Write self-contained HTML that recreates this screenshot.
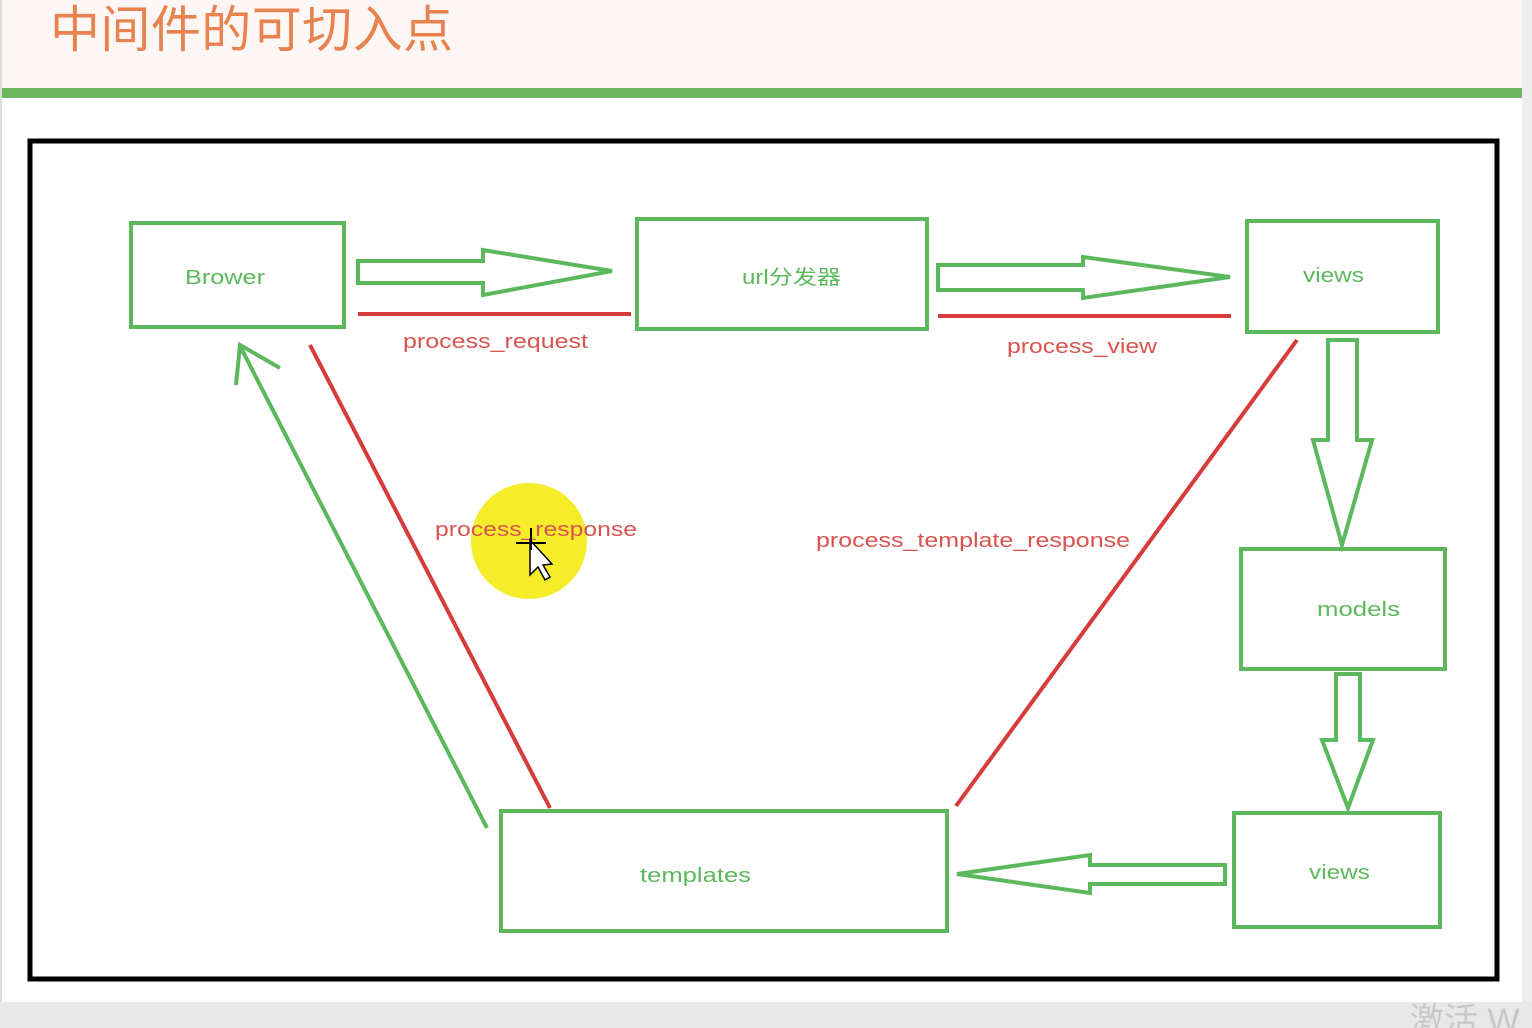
<!DOCTYPE html>
<html><head><meta charset="utf-8"><style>
html,body{margin:0;padding:0;width:1532px;height:1028px;overflow:hidden;background:#fff}
svg{display:block}
</style></head><body>
<svg width="1532" height="1028" viewBox="0 0 1532 1028" xmlns="http://www.w3.org/2000/svg">
<rect x="0" y="0" width="1532" height="1028" fill="#fff"/>
<rect x="0" y="0" width="1522" height="88" fill="#fcf7f5"/>
<rect x="0" y="0" width="2" height="1002" fill="#ddd"/>
<rect x="1522" y="0" width="10" height="1028" fill="#eeeeee"/>
<rect x="0" y="1002" width="1532" height="26" fill="#e8e8e8"/>
<text x="1410" y="1032" font-family="Liberation Sans,'Noto Sans CJK SC',sans-serif" font-size="34" fill="#c8c8c8">激活 W</text>
<text x="50" y="47" font-family="Liberation Sans,'Noto Sans CJK SC',sans-serif" font-size="50" fill="#e8824e" textLength="403">中间件的可切入点</text>
<rect x="2" y="88" width="1520" height="10" fill="#6cb65e"/>
<rect x="30" y="141" width="1467" height="838" fill="#fff" stroke="#000" stroke-width="5"/>
<g fill="none" stroke="#5cb85c" stroke-width="4">
<rect x="131" y="223" width="213" height="104"/>
<rect x="637" y="219" width="290" height="110"/>
<rect x="1247" y="221" width="191" height="111"/>
<rect x="1241" y="549" width="204" height="120"/>
<rect x="1234" y="813" width="206" height="114"/>
<rect x="501" y="811" width="446" height="120"/>
<polygon points="358,261 483,261 483,250 612,271 483,295 483,283 358,283"/>
<polygon points="938,265 1083,265 1083,257 1230,277 1083,298 1083,290 938,290"/>
<polygon points="1328,340 1357,340 1357,440 1372,440 1342,545 1313,440 1328,440"/>
<polygon points="1336,674 1360,674 1360,740 1373,740 1348,808 1322,740 1336,740"/>
<polygon points="1225,865 1225,884 1090,884 1090,893 957,874 1090,855 1090,865"/>
<line x1="487" y1="828" x2="240" y2="346"/>
<polyline points="280,368 240,345 236,385"/>
</g>
<g stroke="#d63c3c" stroke-width="4">
<line x1="358" y1="314" x2="631" y2="314"/>
<line x1="938" y1="316" x2="1231" y2="316"/>
<line x1="310" y1="345" x2="550" y2="808"/>
<line x1="1297" y1="340" x2="956" y2="806"/>
</g>
<circle cx="529" cy="541" r="58" fill="#f5ec2a"/>
<g font-family="Liberation Sans,'Noto Sans CJK SC',sans-serif" font-size="20" fill="#d9534f" lengthAdjust="spacingAndGlyphs">
<text x="403" y="348" textLength="185" lengthAdjust="spacingAndGlyphs">process_request</text>
<text x="1007" y="353" textLength="150" lengthAdjust="spacingAndGlyphs">process_view</text>
<text x="435" y="536" textLength="202" lengthAdjust="spacingAndGlyphs">process_response</text>
<text x="816" y="547" textLength="314" lengthAdjust="spacingAndGlyphs">process_template_response</text>
</g>
<g font-family="Liberation Sans,'Noto Sans CJK SC',sans-serif" font-size="20" fill="#5cb85c">
<text x="185" y="284" textLength="80" lengthAdjust="spacingAndGlyphs">Brower</text>
<text x="742" y="284" textLength="99" lengthAdjust="spacingAndGlyphs">url分发器</text>
<text x="1303" y="282" textLength="61" lengthAdjust="spacingAndGlyphs">views</text>
<text x="1317" y="616" textLength="83" lengthAdjust="spacingAndGlyphs">models</text>
<text x="1309" y="879" textLength="61" lengthAdjust="spacingAndGlyphs">views</text>
<text x="640" y="882" textLength="111" lengthAdjust="spacingAndGlyphs">templates</text>
</g>
<polygon points="530,540 530,575 538,567 545,580 550,577 543,565 552,564" fill="#fff" stroke="#000" stroke-width="1.5"/>
<g stroke="#000" stroke-width="2"><line x1="516" y1="543" x2="546" y2="543"/><line x1="531" y1="528" x2="531" y2="550"/></g>
</svg>
</body></html>
